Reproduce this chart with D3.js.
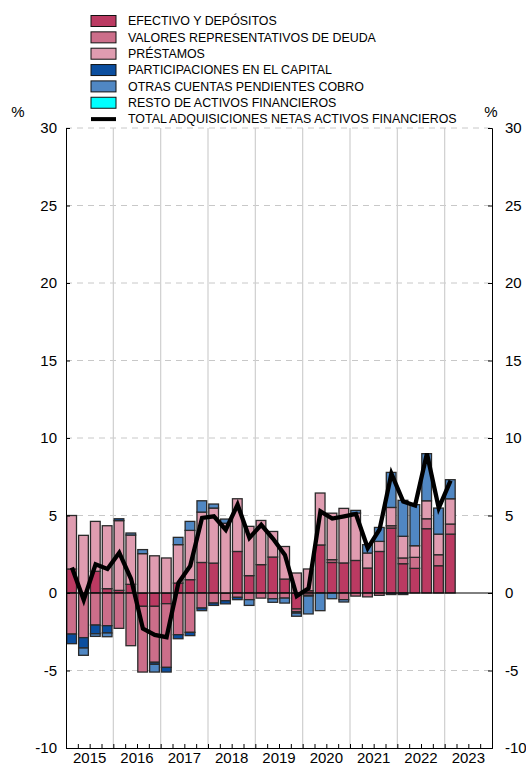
<!DOCTYPE html>
<html>
<head>
<meta charset="utf-8">
<script src="https://cdn.jsdelivr.net/npm/d3@7"></script>
<style>
  body { margin: 0; background: #fff; }
  svg text { font-family: "Liberation Sans", Arial, sans-serif; fill: #000; }
</style>
</head>
<body>
<div class="chart"></div>
<script>
// quarterly periods 2015 Q1 .. 2023 Q1
const periods = ['2015-1','2015-2','2015-3','2015-4','2016-1','2016-2','2016-3','2016-4',
  '2017-1','2017-2','2017-3','2017-4','2018-1','2018-2','2018-3','2018-4',
  '2019-1','2019-2','2019-3','2019-4','2020-1','2020-2','2020-3','2020-4',
  '2021-1','2021-2','2021-3','2021-4','2022-1','2022-2','2022-3','2022-4','2023-1'];
const years = ['2015','2016','2017','2018','2019','2020','2021','2022','2023'];
const yTicks = [-10, -5, 0, 5, 10, 15, 20, 25, 30];

const efectivo = [1.55, 0, 1.4, 0.28, 0.17, 0.56, -0.86, -0.86, -0.69, 0.64, 0.86, 1.97, 1.93, 0, 2.68, 1.12,
  1.83, 2.32, 0.9, -1.03, 0.15, 3.1, 1.97, 1.94, 2.1, 1.61, 2.68, 4.19, 1.89, 1.59, 4.15, 1.76, 3.8];
const valores = [-2.65, -2.88, -2.07, -2.11, -2.28, -3.4, -4.24, -3.61, -4.11, -2.69, -2.54, -0.97, -0.65, -0.5, -0.28, -0.43,
  -0.33, -0.37, -0.33, -0.17, -0.15, 0, 0.18, -0.43, -0.2, -0.25, -0.15, 0.15, 0.37, 0.71, 0.64, 0.71, 0.65];
const prestamos = [3.45, 3.72, 3.22, 4.06, 4.5, 3.18, 2.54, 2.4, 2.26, 2.48, 3.18, 3.25, 3.55, 4.5, 3.4, 3.18,
  2.85, 1.65, 2.1, 1.29, 1.4, 3.35, 3.0, 3.52, 3.06, 0.97, 0.65, 1.18, 1.4, 0.75, 1.16, 1.33, 1.63];
const participaciones = [-0.62, -0.67, -0.56, -0.47, 0.12, 0, 0, -0.13, -0.3, -0.26, -0.21, -0.17, -0.15, -0.2, -0.15, 0,
  0, 0, 0, -0.1, -0.05, 0, 0, 0, 0, 0, 0, -0.1, -0.1, 0, 0, 0, 0];
const otras = [0, -0.47, -0.17, -0.24, 0, 0.13, 0.26, -0.5, 0, 0.47, 0.58, 0.73, 0.26, 0.27, 0, -0.37,
  0, -0.23, -0.32, -0.2, -1.15, -1.14, -0.37, -0.15, 0.17, 0.54, 0.9, 2.26, 2.32, 2.65, 3.04, 1.68, 1.23];
const resto = [0, 0, 0, 0, 0, 0, 0, 0, 0, 0, 0, 0, 0, 0, 0, 0,
  0, 0, 0, 0, 0, 0, 0, 0, 0, 0, 0, 0, 0, 0, 0, 0, 0];
const total = [1.65, -0.45, 1.85, 1.55, 2.6, 0.9, -2.3, -2.7, -2.85, 0.66, 1.75, 4.85, 4.95, 4.08, 5.7, 3.55,
  4.4, 3.5, 2.45, -0.2, 0.3, 5.27, 4.8, 4.95, 5.1, 2.9, 4.1, 7.7, 5.9, 5.65, 9.0, 5.48, 7.25];

const series = [
  { key: 'efectivo', name: 'EFECTIVO Y DEPÓSITOS', color: '#bb3a62', values: efectivo },
  { key: 'valores', name: 'VALORES REPRESENTATIVOS DE DEUDA', color: '#cc6e8a', values: valores },
  { key: 'prestamos', name: 'PRÉSTAMOS', color: '#df9cb0', values: prestamos },
  { key: 'participaciones', name: 'PARTICIPACIONES EN EL CAPITAL', color: '#0b4e9f', values: participaciones },
  { key: 'otras', name: 'OTRAS CUENTAS PENDIENTES COBRO', color: '#5087c3', values: otras },
  { key: 'resto', name: 'RESTO DE ACTIVOS FINANCIEROS', color: '#00ffff', values: resto }
];

const W = 526, H = 765;
const margin = { top: 128, right: 34, bottom: 17, left: 66 };
const width = W - margin.left - margin.right;
const height = H - margin.top - margin.bottom;

const svg = d3.select('.chart').append('svg')
  .attr('width', W).attr('height', H);

// legend
const legend = svg.append('g').attr('transform', 'translate(91,21)');
series.forEach((s, i) => {
  legend.append('rect')
    .attr('x', 0).attr('y', i * 16.35 - 5.5)
    .attr('width', 25).attr('height', 11)
    .attr('fill', s.color).attr('stroke', '#111').attr('stroke-width', 1);
  legend.append('text')
    .attr('x', 37).attr('y', i * 16.35).attr('dy', '0.35em')
    .style('font-size', '12.4px').text(s.name);
});
legend.append('rect')
  .attr('x', 0).attr('y', 6 * 16.35 - 2).attr('width', 25).attr('height', 4).attr('fill', '#000');
legend.append('text')
  .attr('x', 37).attr('y', 6 * 16.35).attr('dy', '0.35em')
  .style('font-size', '12.4px').text('TOTAL ADQUISICIONES NETAS ACTIVOS FINANCIEROS');

const g = svg.append('g').attr('transform', 'translate(' + margin.left + ',' + margin.top + ')');

const x = d3.scaleLinear().domain([2015, 2024]).range([0, width]);
const y = d3.scaleLinear().domain([-10, 30]).range([height, 0]);
const step = x(2015.25) - x(2015);
const tOf = (p) => +p.split('-')[0] + (+p.split('-')[1] - 1) / 4;

// horizontal dashed grid
g.append('g').selectAll('line').data(yTicks.filter(d => d !== 0 && d !== -10)).enter()
  .append('line')
  .attr('x1', 0).attr('x2', width)
  .attr('y1', d => y(d)).attr('y2', d => y(d))
  .attr('stroke', '#c8c8c8').attr('stroke-dasharray', '6,5');

// vertical year grid
g.append('g').selectAll('line').data(d3.range(2016, 2024)).enter()
  .append('line')
  .attr('x1', d => x(d)).attr('x2', d => x(d))
  .attr('y1', 0).attr('y2', height)
  .attr('stroke', '#cfcfcf').attr('stroke-width', 1.2);

// stacked bars
const table = periods.map((p, i) => {
  const row = { period: p };
  series.forEach(s => { row[s.key] = s.values[i]; });
  return row;
});
const stack = d3.stack().keys(series.map(s => s.key)).offset(d3.stackOffsetDiverging);
const layers = stack(table);

g.append('g').selectAll('g').data(layers).enter()
  .append('g')
  .attr('fill', (d, i) => series[i].color)
  .selectAll('rect').data(d => d).enter()
  .append('rect')
  .filter(d => Math.abs(d[1] - d[0]) > 0.001)
  .attr('x', d => x(tOf(d.data.period)) + 0.8)
  .attr('width', step * 0.82)
  .attr('y', d => y(Math.max(d[0], d[1])))
  .attr('height', d => Math.abs(y(d[0]) - y(d[1])))
  .attr('stroke', '#2a2a2a').attr('stroke-width', 1.3);

// zero line
g.append('line')
  .attr('x1', 0).attr('x2', width).attr('y1', y(0)).attr('y2', y(0))
  .attr('stroke', '#000').attr('stroke-width', 1);

// total line
g.append('path')
  .datum(total)
  .attr('fill', 'none')
  .attr('stroke', '#000')
  .attr('stroke-width', 4.3)
  .attr('stroke-linejoin', 'miter')
  .attr('d', d3.line()
    .x((d, i) => x(tOf(periods[i])) + step / 2)
    .y(d => y(d)));

// axes
const fmt = d => String(d);
g.append('g')
  .call(d3.axisLeft(y).tickValues(yTicks).tickSize(-4).tickPadding(9).tickFormat(fmt))
  .call(a => a.select('.domain').attr('stroke', '#000'))
  .selectAll('text').style('font-size', '15px');
g.append('g')
  .attr('transform', 'translate(' + width + ',0)')
  .call(d3.axisRight(y).tickValues(yTicks).tickSize(-4).tickPadding(13).tickFormat(fmt))
  .call(a => a.select('.domain').attr('stroke', '#000'))
  .selectAll('text').style('font-size', '15px');

const xAxis = g.append('g')
  .attr('transform', 'translate(0,' + height + ')')
  .call(d3.axisBottom(x).tickValues(d3.range(2015, 2024.01, 0.25)).tickSize(-4).tickFormat(''));
xAxis.select('.domain').attr('stroke', '#000');
xAxis.selectAll('.year').data(years).enter()
  .append('text')
  .attr('class', 'year')
  .attr('x', d => x(+d + 0.5))
  .attr('y', 10)
  .attr('dy', '0.35em')
  .attr('text-anchor', 'middle')
  .style('font-size', '15px')
  .text(d => d);

svg.append('text').attr('x', 18).attr('y', 117).attr('text-anchor', 'middle')
  .style('font-size', '15px').text('%');
svg.append('text').attr('x', 491).attr('y', 117).attr('text-anchor', 'middle')
  .style('font-size', '15px').text('%');
</script>
</body>
</html>
